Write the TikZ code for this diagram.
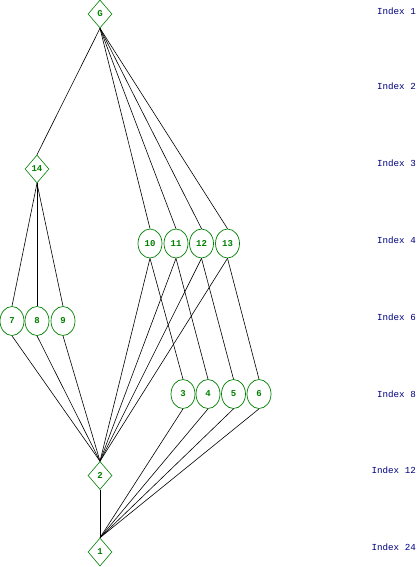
\documentclass[tikz,border=0pt]{standalone}
\usepackage{fontspec}
\setmainfont{Liberation Sans}
\newfontfamily\monofnt{Liberation Mono}
\usetikzlibrary{shapes.geometric}
\definecolor{ngreen}{RGB}{0,128,0}
\definecolor{nnavy}{RGB}{0,0,128}
\tikzset{
  dia/.style={diamond,draw=ngreen,text=ngreen,inner sep=0pt,minimum width=24pt,minimum height=28pt,font=\monofnt\fontsize{9}{9}\selectfont\bfseries,line width=0.6pt},
  ell/.style={ellipse,draw=ngreen,text=ngreen,inner sep=0pt,minimum width=24pt,minimum height=29pt,font=\monofnt\fontsize{9}{9}\selectfont\bfseries,line width=0.7pt},
  idx/.style={anchor=east,text=nnavy,font=\monofnt\fontsize{9.2}{9}\selectfont,inner sep=0pt},
  edge/.style={draw=black,line width=0.6pt}
}
\begin{document}
\begin{tikzpicture}[x=1pt,y=-1pt]
\useasboundingbox (0,0) rectangle (417,567);
\node[dia] (G) at (100,14) {G};
\node[dia] (n14) at (37,169) {14};
\node[ell] (n10) at (150,243.5) {10};
\node[ell] (n11) at (176,243.5) {11};
\node[ell] (n12) at (201.5,243.5) {12};
\node[ell] (n13) at (227.5,243.5) {13};
\node[ell] (n7) at (12,321) {7};
\node[ell] (n8) at (37,321) {8};
\node[ell] (n9) at (63,321) {9};
\node[ell] (n3) at (183,394) {3};
\node[ell] (n4) at (208,394) {4};
\node[ell] (n5) at (233.5,394) {5};
\node[ell] (n6) at (259,394) {6};
\node[dia] (n2) at (100,475.5) {2};
\node[dia] (n1) at (100,552) {1};

\foreach \t in {n14,n10,n11,n12,n13} \draw[edge] (G.south) -- (\t.north);
\foreach \t in {n7,n8,n9} \draw[edge] (n14.south) -- (\t.north);
\foreach \s in {n7,n8,n9,n10,n11,n12,n13} \draw[edge] (\s.south) -- (n2.north);
\draw[edge] (n10.south) -- (n3.north);
\draw[edge] (n11.south) -- (n4.north);
\draw[edge] (n12.south) -- (n5.north);
\draw[edge] (n13.south) -- (n6.north);
\foreach \s in {n2,n3,n4,n5,n6} \draw[edge] (\s.south) -- (n1.north);

\node[idx] (i1) at (416,11) {Index 1};
\node[idx] (i2) at (416,86) {Index 2};
\node[idx] (i3) at (416,163) {Index 3};
\node[idx] (i4) at (416,240) {Index 4};
\node[idx] (i6) at (416,317) {Index 6};
\node[idx] (i8) at (416,394) {Index 8};
\node[idx] (i12) at (416,470) {Index 12};
\node[idx] (i24) at (416,547) {Index 24};
\end{tikzpicture}
\end{document}
